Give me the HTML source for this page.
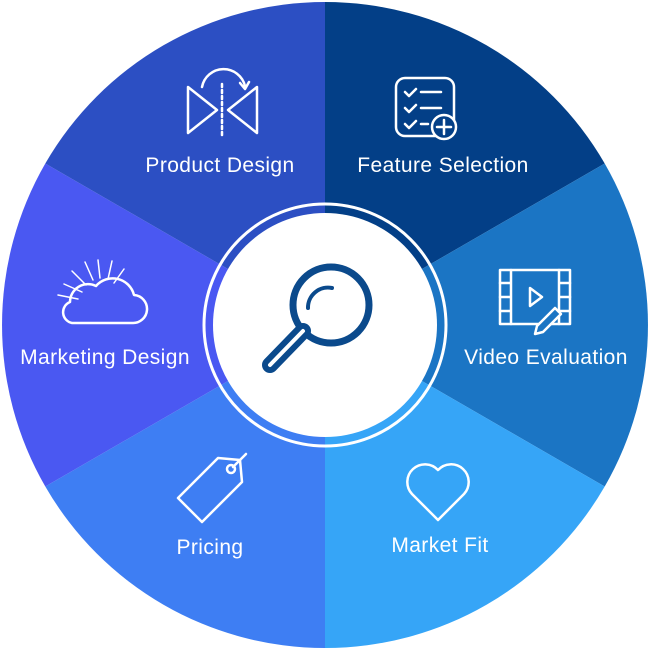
<!DOCTYPE html>
<html><head><meta charset="utf-8"><style>html,body{margin:0;padding:0;background:#fff}svg{display:block}</style></head><body>
<svg width="650" height="650" viewBox="0 0 650 650" xmlns="http://www.w3.org/2000/svg">
<g>
<path d="M325 325 L325 2 A323 323 0 0 1 604.7 163.5 Z" fill="#033F87"/>
<path d="M325 325 L604.7 163.5 A323 323 0 0 1 604.7 486.5 Z" fill="#1B75C4"/>
<path d="M325 325 L604.7 486.5 A323 323 0 0 1 325 648 Z" fill="#36A5F7"/>
<path d="M325 325 L325 648 A323 323 0 0 1 45.3 486.5 Z" fill="#3E7EF3"/>
<path d="M325 325 L45.3 486.5 A323 323 0 0 1 45.3 163.5 Z" fill="#4A58F2"/>
<path d="M325 325 L45.3 163.5 A323 323 0 0 1 325 2 Z" fill="#2C4FC3"/>
</g>
<circle cx="325" cy="325" r="121" fill="none" stroke="#fff" stroke-width="3"/>
<circle cx="325" cy="325" r="112" fill="#fff"/>
<g fill="none" stroke="#0B4A8C" stroke-linecap="round">
<circle cx="331" cy="305" r="38" stroke-width="7"/>
<path d="M332 288 A20 20 0 0 0 308 308" stroke-width="4"/>
<path d="M303 331 L270 365" stroke-width="16"/>
<path d="M303 331 L270 365" stroke-width="4" stroke="#fff"/>
</g>
<g fill="none" stroke="#fff" stroke-width="2.5" stroke-linejoin="round" stroke-linecap="round">
<path d="M188 87 L217 110 L188 133 Z M257 87 L228 110 L257 133 Z"/>
<path d="M222 84 V138" stroke-dasharray="3 3"/>
<path d="M202 87 A22 22 0 0 1 245 86 M240 83 L245 89 L249 82"/>
<rect x="396" y="78" width="58" height="58" rx="9"/>
<path d="M405 92 l4 4 l7 -7 M405 108 l4 4 l7 -7 M405 124 l4 4 l7 -7 M421 92 h20 M421 108 h20 M421 124 h7"/>
<circle cx="444" cy="127" r="12" fill="#033F87"/>
<path d="M444 120 v14 M437 127 h14"/>
<rect x="500" y="270" width="70" height="54"/>
<path d="M511 270 v54 M559 270 v54 M500 283 h11 M500 297 h11 M500 311 h11 M559 283 h11 M559 297 h11 M559 311 h11"/>
<path d="M530 288 l12 9 l-12 9 Z"/>
<path d="M537 326 l18 -18 l6 6 l-18 18 l-8 2 Z" fill="#1B75C4"/>
<path d="M72 323 H132 A14 14 0 0 0 134 295 A22 22 0 0 0 96 286 A18 18 0 0 0 70 302 A11 11 0 0 0 72 323 Z"/>
<path d="M82 292 l-18 -8 M86 285 l-14 -14 M93 280 l-8 -18 M100 278 l-2 -18 M108 279 l4 -18 M114 283 l10 -14 M78 299 l-20 -4" stroke-width="1.5"/>
<path d="M178 498 L218 458 L240 460 L242 482 L202 522 Z"/>
<circle cx="231" cy="469" r="4"/>
<path d="M233 467 L246 454"/>
<path d="M438 520 L412 494 A17 17 0 0 1 438 470 A17 17 0 0 1 464 494 Z"/>
</g>
<g fill="#fff" font-family="Liberation Sans, sans-serif" font-size="21" letter-spacing="0.4" text-anchor="middle">
<text x="220" y="172">Product Design</text>
<text x="443" y="172">Feature Selection</text>
<text x="105" y="364">Marketing Design</text>
<text x="546" y="364">Video Evaluation</text>
<text x="210" y="554">Pricing</text>
<text x="440" y="552">Market Fit</text>
</g>
</svg>
</body></html>
